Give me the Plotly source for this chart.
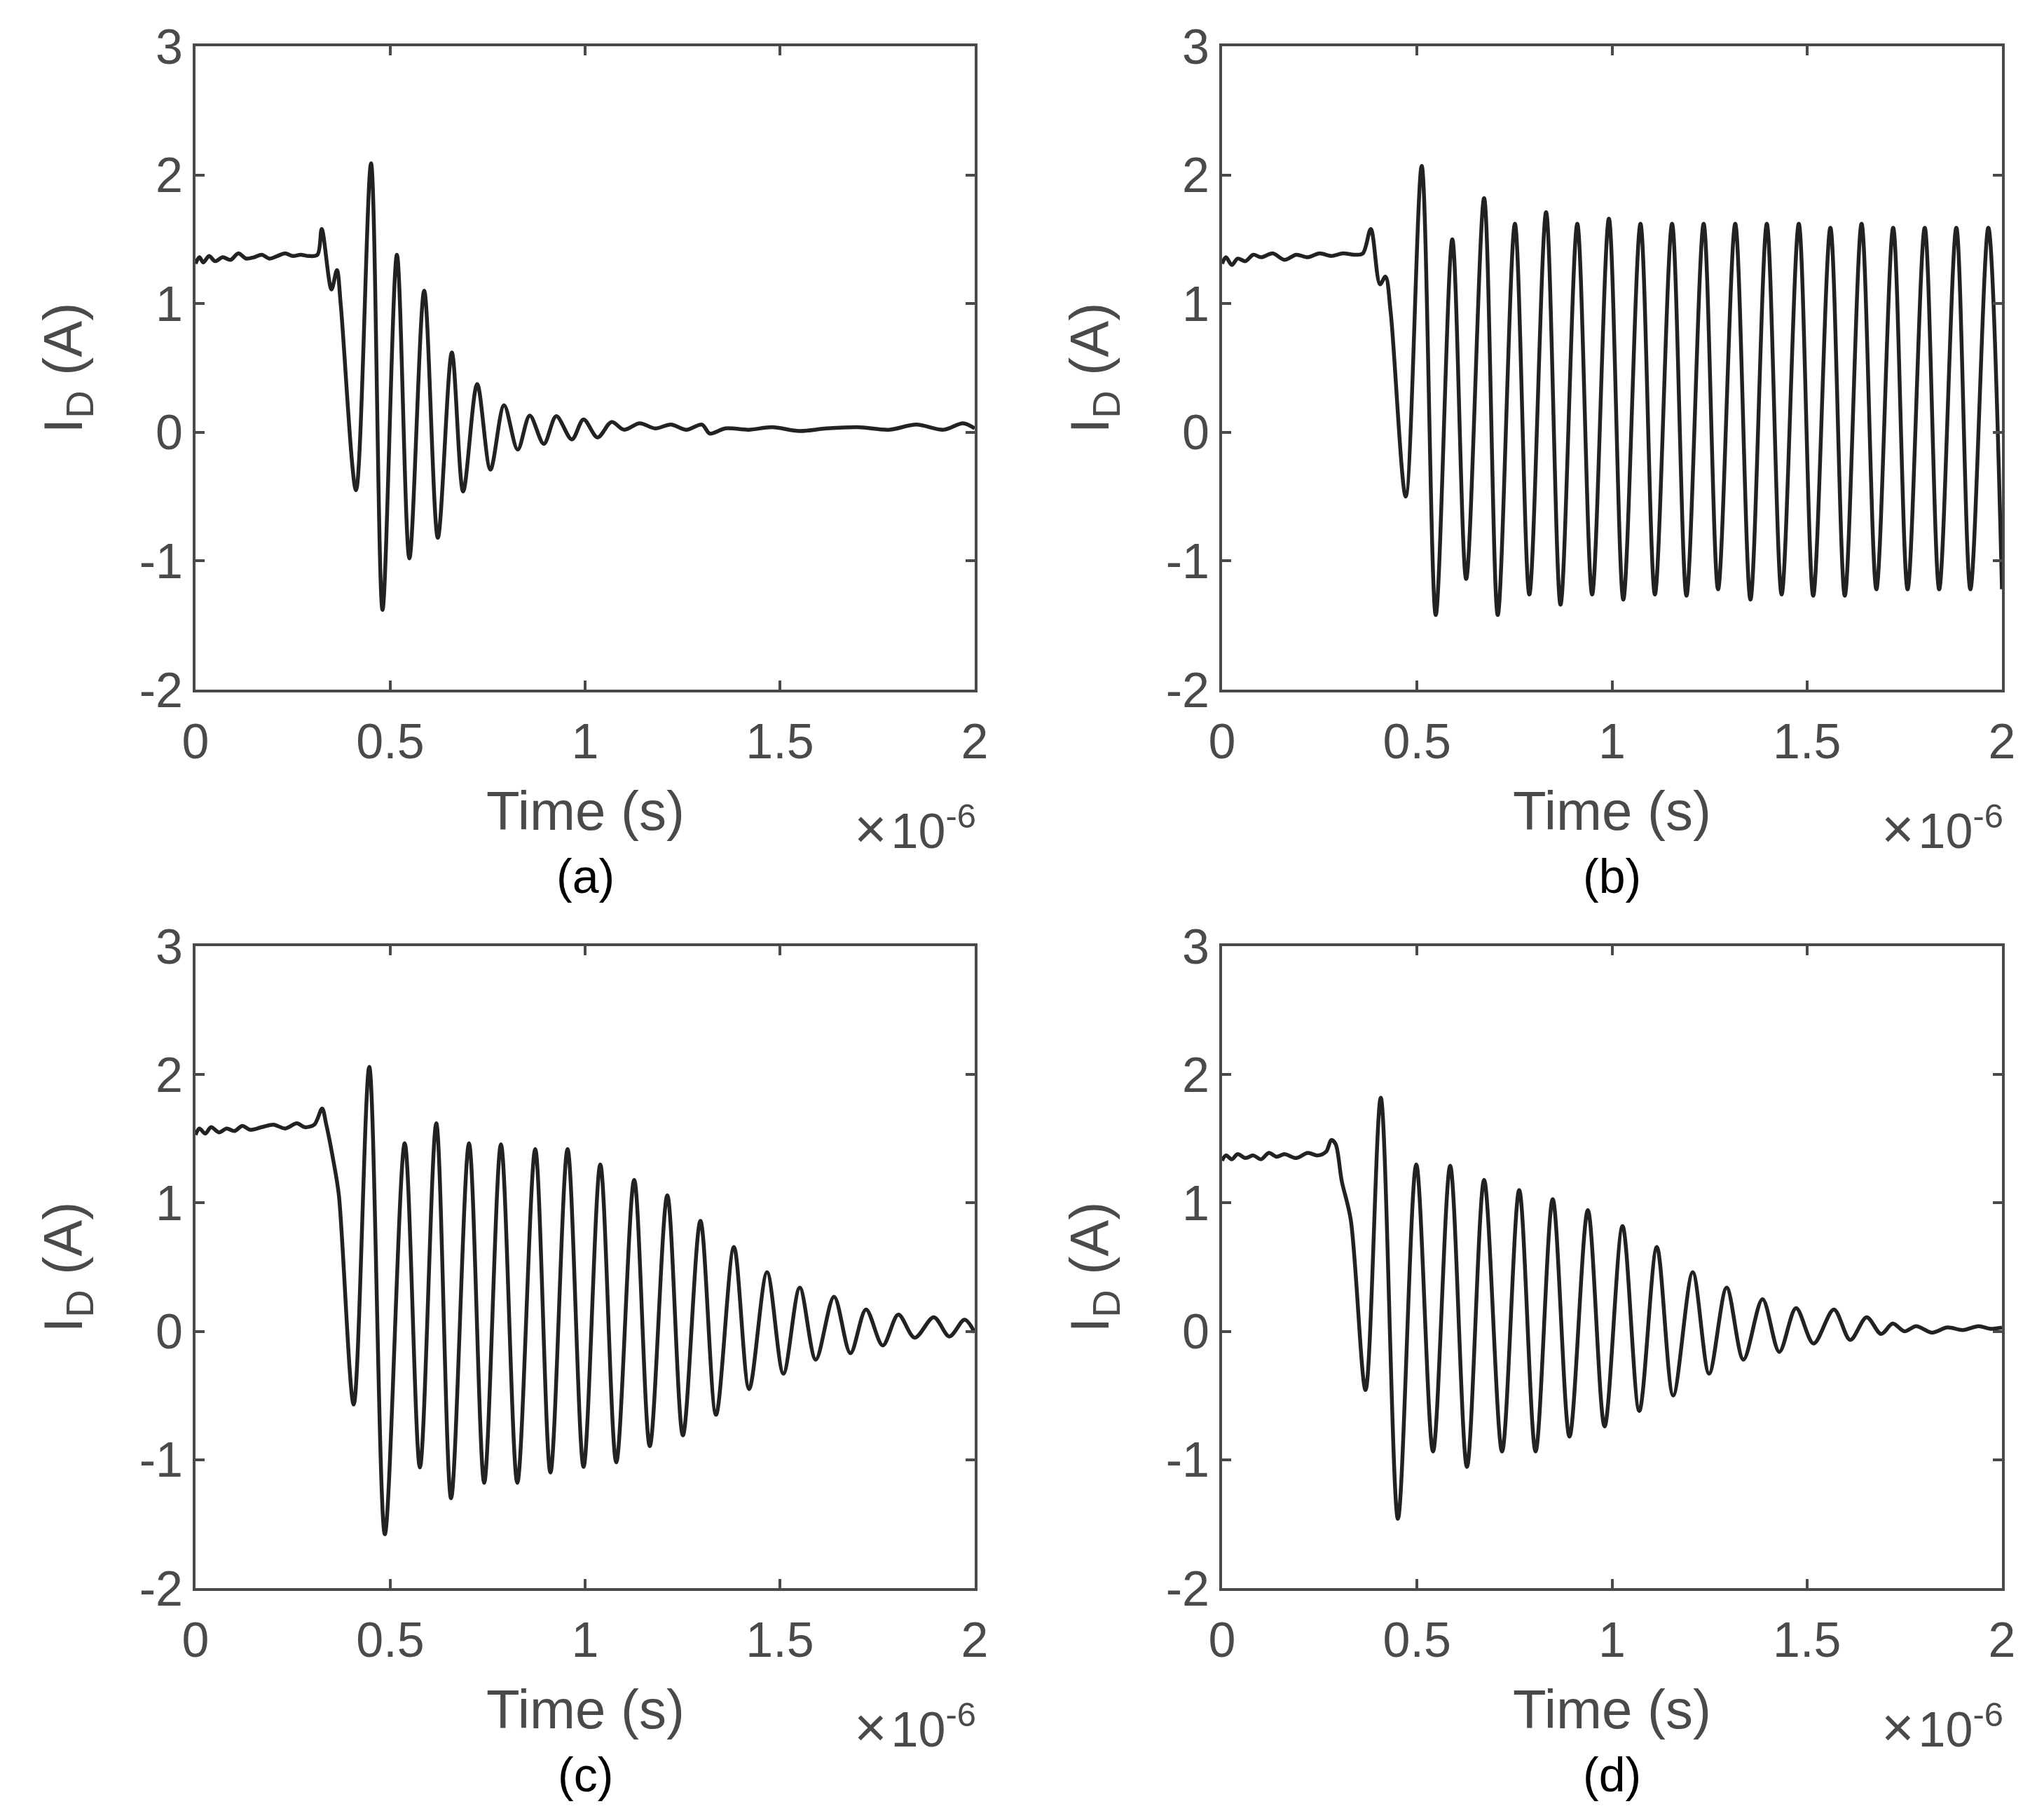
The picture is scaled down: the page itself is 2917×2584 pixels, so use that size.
import plotly.graph_objects as go

# time in units of 1e-6 s, current in A (extrema)
t_a = [0, 0.01, 0.02, 0.035, 0.05, 0.07, 0.09, 0.11, 0.13, 0.15, 0.17, 0.19, 0.21, 0.23, 0.25, 0.27, 0.29, 0.313,
       0.324, 0.349, 0.363, 0.373, 0.412, 0.4505, 0.480, 0.517, 0.549, 0.587, 0.622, 0.658, 0.687, 0.723, 0.757,
       0.792, 0.827, 0.858, 0.894, 0.926, 0.966, 0.996, 1.032, 1.068, 1.10, 1.14, 1.18, 1.22, 1.26, 1.30, 1.32,
       1.36, 1.42, 1.48, 1.55, 1.62, 1.70, 1.78, 1.85, 1.92, 1.97, 2.0]
i_a = [1.31, 1.36, 1.32, 1.37, 1.33, 1.36, 1.34, 1.39, 1.35, 1.36, 1.38, 1.35, 1.37, 1.39, 1.37, 1.38, 1.37, 1.38,
       1.58, 1.11, 1.26, 0.985, -0.45, 2.09, -1.38, 1.38, -0.98, 1.10, -0.82, 0.62, -0.46, 0.375, -0.29,
       0.21, -0.135, 0.13, -0.09, 0.125, -0.055, 0.10, -0.04, 0.08, 0.02, 0.07, 0.03, 0.06, 0.02, 0.06, -0.01,
       0.03, 0.02, 0.04, 0.01, 0.03, 0.04, 0.02, 0.06, 0.02, 0.07, 0.03]

t_b = [0, 0.01, 0.025, 0.04, 0.06, 0.08, 0.10, 0.13, 0.16, 0.19, 0.22, 0.25, 0.28, 0.31, 0.34, 0.361,
       0.3815, 0.405, 0.419, 0.4325, 0.471, 0.512, 0.548, 0.5905, 0.626, 0.672, 0.707, 0.751, 0.788, 0.831,
       0.868, 0.911, 0.949, 0.992, 1.029, 1.073, 1.110, 1.154, 1.191, 1.235, 1.272, 1.316, 1.355, 1.397,
       1.435, 1.479, 1.516, 1.560, 1.597, 1.640, 1.678, 1.721, 1.758, 1.802, 1.839, 1.883, 1.919, 1.965, 2.0]
i_b = [1.31, 1.36, 1.30, 1.35, 1.33, 1.38, 1.36, 1.39, 1.34, 1.38, 1.36, 1.39, 1.37, 1.39, 1.38, 1.39,
       1.58, 1.15, 1.21, 0.93, -0.50, 2.07, -1.42, 1.50, -1.14, 1.82, -1.42, 1.62, -1.26, 1.71,
       -1.34, 1.62, -1.26, 1.66, -1.30, 1.62, -1.26, 1.62, -1.27, 1.62, -1.22, 1.62, -1.30, 1.62,
       -1.26, 1.62, -1.27, 1.59, -1.27, 1.62, -1.22, 1.59, -1.22, 1.59, -1.22, 1.59, -1.22, 1.59, -1.22]

t_c = [0, 0.01, 0.025, 0.04, 0.06, 0.08, 0.10, 0.12, 0.14, 0.17, 0.20, 0.23, 0.26, 0.28, 0.305,
       0.325, 0.335, 0.355, 0.368, 0.406, 0.446, 0.486, 0.537, 0.576, 0.618, 0.656, 0.702, 0.741, 0.784,
       0.826, 0.872, 0.911, 0.955, 0.996, 1.039, 1.080, 1.126, 1.166, 1.211, 1.251, 1.296, 1.336, 1.382,
       1.421, 1.467, 1.509, 1.551, 1.592, 1.639, 1.681, 1.721, 1.764, 1.804, 1.846, 1.895, 1.935, 1.974, 2.0]
i_c = [1.53, 1.58, 1.54, 1.59, 1.55, 1.58, 1.56, 1.60, 1.57, 1.59, 1.61, 1.58, 1.62, 1.59, 1.61,
       1.735, 1.62, 1.31, 1.06, -0.57, 2.06, -1.58, 1.465, -1.06, 1.62, -1.30, 1.465, -1.18, 1.457,
       -1.18, 1.42, -1.10, 1.42, -1.056, 1.30, -1.02, 1.18, -0.894, 1.06, -0.81, 0.86, -0.65, 0.657,
       -0.45, 0.46, -0.33, 0.34, -0.22, 0.27, -0.17, 0.17, -0.11, 0.13, -0.05, 0.11, -0.04, 0.09, -0.01]

t_d = [0, 0.01, 0.025, 0.04, 0.06, 0.08, 0.10, 0.12, 0.14, 0.16, 0.19, 0.22, 0.245, 0.267,
       0.280, 0.291, 0.307, 0.330, 0.368, 0.407, 0.451, 0.498, 0.541, 0.585, 0.628, 0.672, 0.718, 0.762,
       0.804, 0.848, 0.891, 0.938, 0.981, 1.027, 1.070, 1.115, 1.157, 1.207, 1.249, 1.294, 1.337, 1.386,
       1.429, 1.472, 1.517, 1.569, 1.611, 1.653, 1.69, 1.72, 1.75, 1.78, 1.82, 1.86, 1.90, 1.94, 1.97, 2.0]
i_d = [1.33, 1.37, 1.34, 1.38, 1.35, 1.37, 1.34, 1.39, 1.36, 1.38, 1.35, 1.39, 1.37, 1.40,
       1.49, 1.46, 1.17, 0.87, -0.457, 1.82, -1.46, 1.30, -0.936, 1.29, -1.056, 1.18, -0.936, 1.10,
       -0.936, 1.03, -0.82, 0.944, -0.74, 0.82, -0.62, 0.657, -0.50, 0.46, -0.33, 0.34, -0.22, 0.25,
       -0.16, 0.18, -0.095, 0.17, -0.067, 0.11, -0.02, 0.06, 0.0, 0.04, -0.01, 0.03, 0.01, 0.04, 0.02, 0.03]

panels = [(t_a, i_a, "(a)"), (t_b, i_b, "(b)"), (t_c, i_c, "(c)"), (t_d, i_d, "(d)")]

x_ticks = [0, 0.5, 1, 1.5, 2]
x_labels = ["0", "0.5", "1", "1.5", "2"]
y_ticks = [-2, -1, 0, 1, 2, 3]
y_labels = ["-2", "-1", "0", "1", "2", "3"]

W, H = 2917, 2584
x_dom = [(279 / W, 1391 / W), (1744 / W, 2857 / W)]
y_dom = [(1 - 984 / H, 1 - 66 / H), (1 - 2266 / H, 1 - 1350 / H)]

axcol = "#4a4a4a"
fnt = "Liberation Sans, Arial, Helvetica, sans-serif"

fig = go.Figure()
annotations = []
for k, (t, i, lab) in enumerate(panels):
    row, col = k // 2, k % 2
    n = "" if k == 0 else str(k + 1)
    fig.add_trace(go.Scatter(x=t, y=i, mode="lines", xaxis="x" + n, yaxis="y" + n,
                             line=dict(color="#222222", width=5.5, shape="spline", smoothing=0.9),
                             showlegend=False, hoverinfo="skip"))
    common = dict(showline=True, linecolor=axcol, linewidth=4, mirror="ticks", ticks="inside",
                  ticklen=13, tickwidth=4, tickcolor=axcol, showgrid=False, zeroline=False,
                  automargin=False, tickfont=dict(family=fnt, size=70, color=axcol))
    fig.layout["xaxis" + n] = dict(domain=x_dom[col], anchor="y" + n, range=[0, 2],
                                   tickvals=x_ticks, ticktext=x_labels, ticklabelstandoff=10, **common)
    fig.layout["yaxis" + n] = dict(domain=y_dom[row], anchor="x" + n, range=[-2, 3],
                                   tickvals=y_ticks, ticktext=y_labels, ticklabelstandoff=0, **common)

    x0, x1 = x_dom[col]
    y0, y1 = y_dom[row]
    xc = (x0 + x1) / 2
    annotations += [
        dict(text="Time (s)", x=xc, y=y0 - 173 / H, xref="paper", yref="paper", xanchor="center",
             yanchor="middle", showarrow=False, font=dict(family=fnt, size=78, color=axcol)),
        dict(text="<span style='font-size:80px'>\u00d7</span>\u200a10<sup>-6</sup>", x=x1 + 4 / W,
             y=y0 - 198 / H, xref="paper", yref="paper", xanchor="right", yanchor="middle",
             showarrow=False, font=dict(family=fnt, size=70, color=axcol)),
        dict(text=lab, x=xc, y=y0 - 266 / H, xref="paper", yref="paper", xanchor="center",
             yanchor="middle", showarrow=False, font=dict(family=fnt, size=68, color="black")),
        dict(text="I<sub>D</sub> (A)", x=x0 - 236 / W, y=(y0 + y1) / 2, xref="paper", yref="paper",
             xanchor="left", yanchor="middle", textangle=-90, showarrow=False,
             font=dict(family=fnt, size=78, color=axcol)),
    ]

fig.update_layout(width=W, height=H, margin=dict(l=0, r=0, t=0, b=0, autoexpand=False),
                  paper_bgcolor="white", plot_bgcolor="white", annotations=annotations)

fig.write_html("out.html", config={"displayModeBar": False},
               post_script="document.body.style.margin='0';")
